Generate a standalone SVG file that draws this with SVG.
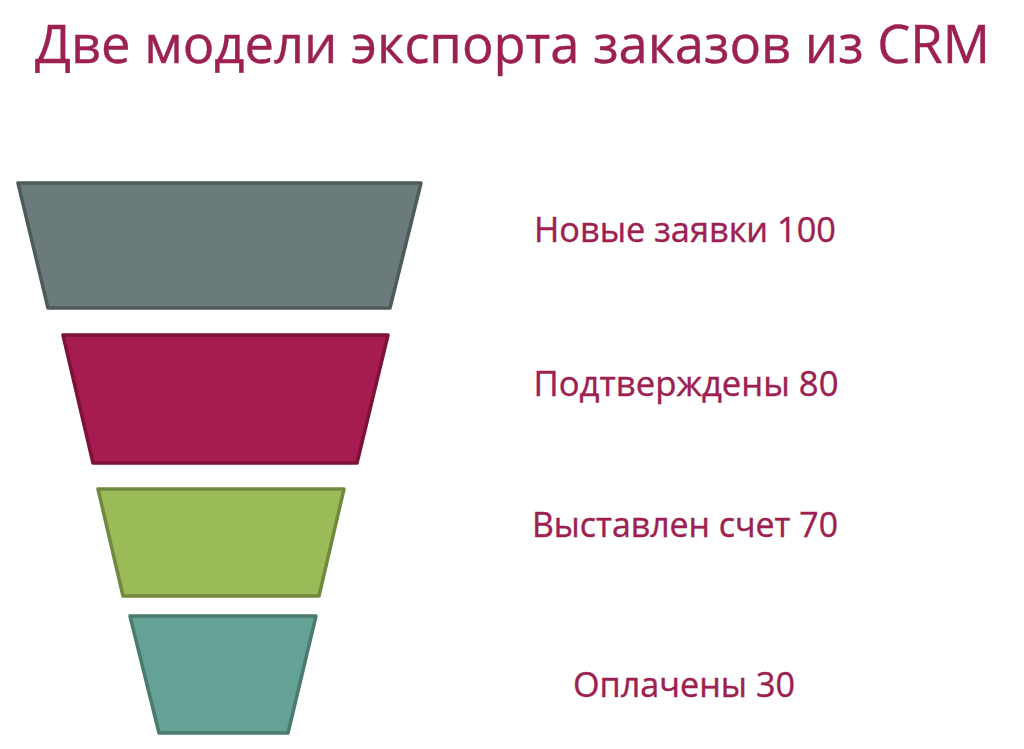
<svg xmlns="http://www.w3.org/2000/svg" width="1024" height="749" viewBox="0 0 1024 749">
<style>
.t{font-family:"Open Sans","Noto Sans","DejaVu Sans",sans-serif;fill:#9c2152;stroke:#9c2152;stroke-width:0.4}
.lbl{font-size:35px;text-anchor:middle}
.title{font-size:53px}
.st{stroke-width:3.5;stroke-linejoin:round}
</style>
<rect width="1024" height="749" fill="#ffffff"/>
<text class="t title" x="35" y="63" textLength="955" lengthAdjust="spacingAndGlyphs">Две модели экспорта заказов из CRM</text>
<g id="stage1">
<polygon class="st" points="18,183 421,183 390,308 48,308" fill="#6b7b7c" stroke="#4e5b5b"/>
<text class="t lbl" x="685" y="242" textLength="302" lengthAdjust="spacingAndGlyphs">Новые заявки 100</text>
</g>
<g id="stage2">
<polygon class="st" points="63,335 388,335 357,463 93,463" fill="#a61c51" stroke="#7c1238"/>
<text class="t lbl" x="686" y="396" textLength="305" lengthAdjust="spacingAndGlyphs">Подтверждены 80</text>
</g>
<g id="stage3">
<polygon class="st" points="98,489 344,489 319,596 123,596" fill="#9bbb59" stroke="#71893f"/>
<text class="t lbl" x="685" y="537" textLength="306" lengthAdjust="spacingAndGlyphs">Выставлен счет 70</text>
</g>
<g id="stage4">
<polygon class="st" points="130,616 316,616 288,733 159,733" fill="#63a295" stroke="#4b7a70"/>
<text class="t lbl" x="684" y="697" textLength="222" lengthAdjust="spacingAndGlyphs">Оплачены 30</text>
</g>
<g id="connectors"/>
</svg>
